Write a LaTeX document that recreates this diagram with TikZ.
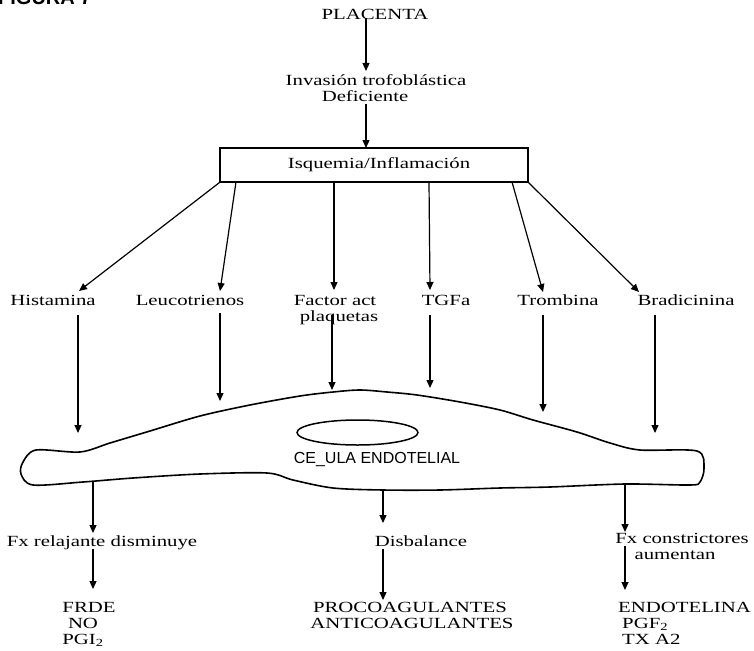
\documentclass[tikz,border=0pt]{standalone}
\usepackage{fontspec}
\setmainfont{Liberation Serif}[FakeStretch=1.34]
\newfontfamily\labsans{Liberation Sans}
\usetikzlibrary{arrows.meta}
\begin{document}
\begin{tikzpicture}[x=1pt,y=-1pt,
  lab/.style={anchor=base,inner sep=0pt,font=\fontsize{15.5}{15}\selectfont},
  arr/.style={line width=1.2pt,-{Triangle[length=8pt,width=7pt]}},
  cellline/.style={line width=1.6pt,line join=round}]
\useasboundingbox (0,0) rectangle (754,650);
% title fragment (cut by the top edge)
\node[anchor=base west,inner sep=0pt,font=\labsans\bfseries\fontsize{20}{20}\selectfont] (fig) at (-2,5) {FIGURA 7};
% top chain
\node[lab] (placenta) at (375,20) {PLACENTA};
\node[lab] (inv1) at (376,86) {Invasión trofoblástica};
\node[lab] (inv2) at (365,102) {Deficiente};
\node[draw,line width=1.1pt,minimum width=308pt,minimum height=34pt,inner sep=0pt,
      font=\fontsize{15.5}{15}\selectfont] (box) at (374,165) {\hspace*{10pt}Isquemia/Inflamación};
\coordinate (a1s) at (366,18);  \coordinate (a1e) at (366,71);
\coordinate (a2s) at (366,104); \coordinate (a2e) at (366,148);
\draw[arr] (a1s) -- (a1e);
\draw[arr] (a2s) -- (a2e);
% mediators
\node[lab] (his) at (53,305) {Histamina};
\node[lab] (leu) at (190,305) {Leucotrienos};
\node[lab] (fac) at (335,305) {Factor act};
\node[lab] (plq) at (339,321) {plaquetas};
\node[lab] (tgf) at (446,305) {TGFa};
\node[lab] (tro) at (558,305) {Trombina};
\node[lab] (bra) at (686,305) {Bradicinina};
% fan arrows from the box
\coordinate (s2) at (236,182); \coordinate (s3) at (334,182);
\coordinate (s4) at (429,182); \coordinate (s5) at (512,182);
\coordinate (t1) at (79,291);  \coordinate (t2) at (220,291);
\coordinate (t3) at (334,290); \coordinate (t4) at (430,290);
\coordinate (t5) at (543,292); \coordinate (t6) at (639,292);
\draw[arr] (box.south west) -- (t1);
\draw[arr] (s2) -- (t2);
\draw[arr] (s3) -- (t3);
\draw[arr] (s4) -- (t4);
\draw[arr] (s5) -- (t5);
\draw[arr] (box.south east) -- (t6);
% arrows from mediators to the cell
\coordinate (u1) at (78,315);  \coordinate (v1) at (78,433);
\coordinate (u2) at (220,313); \coordinate (v2) at (220,401);
\coordinate (u3) at (332,315); \coordinate (v3) at (332,390);
\coordinate (u4) at (430,315); \coordinate (v4) at (430,388);
\coordinate (u5) at (543,315); \coordinate (v5) at (543,412);
\coordinate (u6) at (655,315); \coordinate (v6) at (655,433);
\foreach \i in {1,...,6} \draw[arr] (u\i) -- (v\i);
% endothelial cell
\draw[cellline] plot[smooth cycle,tension=0.5] coordinates {
 (36,450) (80,452) (110,443) (150,431) (200,416) (250,405) (300,396) (333,392)
 (360,390) (387,392) (417,395) (460,402) (500,410) (533,420) (577,432) (610,443)
 (640,450) (697,451) (704,468) (700,482) (690,485) (625,484) (550,487) (500,488)
 (440,490) (383,490) (333,488) (293,480) (267,473) (200,474) (133,478) (83,482)
 (33,485) (21,474) (23,462)};
\draw[line width=1.5pt] (357.5,432.5) ellipse [x radius=60.5, y radius=12.5];
\node[anchor=base,inner sep=0pt,font=\labsans\fontsize{16}{16}\selectfont] (cel) at (377,463) {CE\_ULA ENDOTELIAL};
% outputs of the cell
\coordinate (b1s) at (93,482); \coordinate (b1e) at (93,533);
\coordinate (b2s) at (383,490); \coordinate (b2e) at (383,523);
\coordinate (b3s) at (625,484); \coordinate (b3e) at (625,532);
\draw[arr] (b1s) -- (b1e);
\draw[arr] (b2s) -- (b2e);
\draw[arr] (b3s) -- (b3e);
\node[lab] (rel) at (102,546) {Fx relajante disminuye};
\node[lab] (dis) at (421,546) {Disbalance};
\node[lab] (con) at (682,543) {Fx constrictores};
\node[lab] (aum) at (675,559) {aumentan};
\coordinate (c1s) at (93,549); \coordinate (c1e) at (93,589);
\coordinate (c2s) at (383,549); \coordinate (c2e) at (383,600);
\coordinate (c3s) at (625,546); \coordinate (c3e) at (625,590);
\draw[arr] (c1s) -- (c1e);
\draw[arr] (c2s) -- (c2e);
\draw[arr] (c3s) -- (c3e);
% final lists
\node[lab] (frde) at (89,612) {FRDE};
\node[lab] (no) at (83,628) {NO};
\node[lab] (pgi) at (83,644) {PGI\textsubscript{2}};
\node[lab] (pro) at (410,612) {PROCOAGULANTES};
\node[lab] (anti) at (412,628) {ANTICOAGULANTES};
\node[lab,anchor=base west] (endo) at (618,612) {ENDOTELINA};
\node[lab,anchor=base west] (pgf) at (622,628) {PGF\textsubscript{2}};
\node[lab,anchor=base west] (tx) at (622,644) {TX A2};
\end{tikzpicture}
\end{document}
